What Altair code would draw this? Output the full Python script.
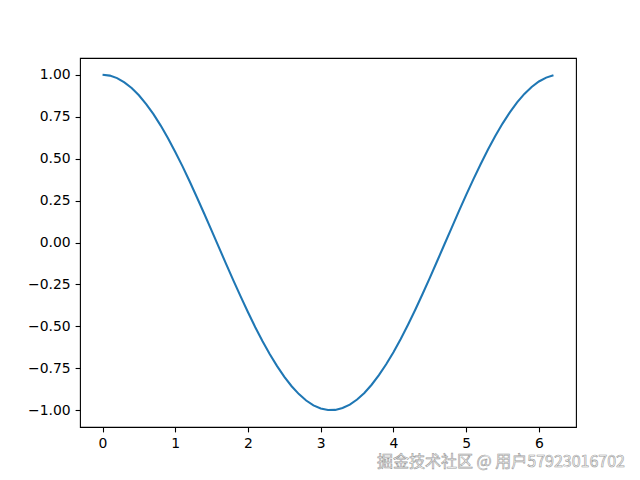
import altair as alt
import pandas as pd

x_vals = [0.0, 0.1, 0.2, 0.3, 0.4, 0.5, 0.6, 0.7, 0.8, 0.9,
          1.0, 1.1, 1.2, 1.3, 1.4, 1.5, 1.6, 1.7, 1.8, 1.9,
          2.0, 2.1, 2.2, 2.3, 2.4, 2.5, 2.6, 2.7, 2.8, 2.9,
          3.0, 3.1, 3.2, 3.3, 3.4, 3.5, 3.6, 3.7, 3.8, 3.9,
          4.0, 4.1, 4.2, 4.3, 4.4, 4.5, 4.6, 4.7, 4.8, 4.9,
          5.0, 5.1, 5.2, 5.3, 5.4, 5.5, 5.6, 5.7, 5.8, 5.9,
          6.0, 6.1, 6.2]
y_vals = [1.000, 0.995, 0.980, 0.955, 0.921, 0.878, 0.825, 0.765, 0.697, 0.622,
          0.540, 0.454, 0.362, 0.267, 0.170, 0.071, -0.029, -0.129, -0.227, -0.323,
          -0.416, -0.505, -0.589, -0.666, -0.737, -0.801, -0.857, -0.904, -0.942, -0.971,
          -0.990, -0.999, -0.998, -0.987, -0.967, -0.936, -0.897, -0.848, -0.791, -0.726,
          -0.654, -0.575, -0.490, -0.401, -0.307, -0.211, -0.112, -0.012, 0.087, 0.187,
          0.284, 0.378, 0.468, 0.554, 0.635, 0.709, 0.776, 0.835, 0.886, 0.927,
          0.960, 0.983, 0.997]
x_ticks = [0, 1, 2, 3, 4, 5, 6]
y_ticks = [-1.0, -0.75, -0.5, -0.25, 0.0, 0.25, 0.5, 0.75, 1.0]
watermark = "掘金技术社区 @ 用户57923016702"

df = pd.DataFrame({"x": x_vals, "y": y_vals})

line = alt.Chart(df).mark_line(color="#1f77b4", strokeWidth=2.08, clip=True).encode(
    x=alt.X("x:Q", scale=alt.Scale(domain=[-0.31, 6.51], nice=False, zero=False),
            axis=alt.Axis(values=x_ticks, format="d", title=None)),
    y=alt.Y("y:Q", scale=alt.Scale(domain=[-1.1, 1.1], nice=False, zero=False),
            axis=alt.Axis(values=y_ticks, format=".2f", title=None)),
)

wm = alt.Chart(pd.DataFrame({"t": [watermark]})).mark_text(
    align="right", baseline="alphabetic", font="Noto Sans CJK SC", fontSize=16,
    fill="white", stroke="#9a9a9a", strokeWidth=0.6,
).encode(x=alt.value(545), y=alt.value(409), text="t:N")

chart = (line + wm).properties(
    width=496, height=369,
    autosize=alt.AutoSizeParams(type="none"),
    padding={"left": 72, "top": 50, "right": 56, "bottom": 48},
    background="white",
).configure_view(stroke="black", strokeWidth=1.1).configure_axis(
    grid=False, domain=False,
    labelFont="DejaVu Sans", labelFontSize=13.9, labelColor="black",
    tickColor="black", tickSize=4.9, tickWidth=1.1, labelPadding=4.9,
)

chart.save("out.html", embed_options={"renderer": "svg", "actions": False})
